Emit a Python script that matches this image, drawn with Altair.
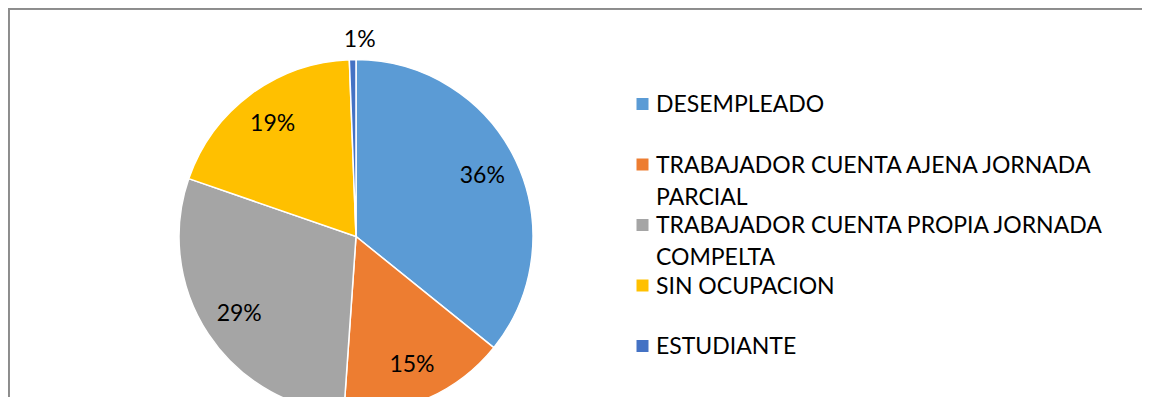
import altair as alt
import pandas as pd

categorias = [
    "DESEMPLEADO",
    "TRABAJADOR CUENTA AJENA JORNADA PARCIAL",
    "TRABAJADOR CUENTA PROPIA JORNADA COMPELTA",
    "SIN OCUPACION",
    "ESTUDIANTE",
]
etiquetas_leyenda = [
    "DESEMPLEADO",
    "TRABAJADOR CUENTA AJENA JORNADA\nPARCIAL",
    "TRABAJADOR CUENTA PROPIA JORNADA\nCOMPELTA",
    "SIN OCUPACION",
    "ESTUDIANTE",
]
porcentajes = [35.8, 15.3, 29.2, 19.1, 0.6]
colores = ["#5B9BD5", "#ED7D31", "#A5A5A5", "#FFC000", "#4472C4"]

df = pd.DataFrame({
    "cat": categorias,
    "leyenda": etiquetas_leyenda,
    "pct": porcentajes,
    "idx": list(range(len(categorias))),
})
df["frac"] = df["pct"] / 100.0

FONT = "Lato"
CX, CY, R = 347, 227.5, 177

color = alt.Color("cat:N", scale=alt.Scale(domain=categorias, range=colores), legend=None)

base = alt.Chart(df).encode(
    theta=alt.Theta("pct:Q", stack=True),
    order=alt.Order("idx:Q"),
    x=alt.value(CX),
    y=alt.value(CY),
)

pie = base.mark_arc(outerRadius=R, stroke="white", strokeWidth=1.5).encode(color=color)

lbl_in = base.transform_filter("datum.pct >= 5").mark_text(
    radius=140, font=FONT, fontSize=23, color="#000000", align="center", baseline="middle"
).encode(text=alt.Text("frac:Q", format=".0%"))

lbl_out = base.transform_filter("datum.pct < 5").mark_text(
    radius=197, font=FONT, fontSize=23, color="#000000", align="center", baseline="middle"
).encode(text=alt.Text("frac:Q", format=".0%"))

ley_y = alt.Y("idx:Q", scale=alt.Scale(domain=[0, 4], range=[95, 337]), axis=None)

ley_sq = alt.Chart(df).mark_square(size=144, opacity=1).encode(
    x=alt.value(633.5), y=ley_y, color=color
)
ley_txt = alt.Chart(df).mark_text(
    font=FONT, fontSize=23, color="#000000", align="left", baseline="alphabetic",
    lineBreak="\n", lineHeight=32, dy=8
).encode(x=alt.value(647), y=ley_y, text="leyenda:N")

borde_sup = alt.Chart(df).mark_rule(color="#8c8c8c", strokeWidth=1.5).encode(
    x=alt.value(-0.5), x2=alt.value(1200), y=alt.value(-0.25)
)
borde_izq = alt.Chart(df).mark_rule(color="#8c8c8c", strokeWidth=1.5).encode(
    x=alt.value(-0.25), y=alt.value(-0.5), y2=alt.value(500)
)

chart = alt.layer(pie, lbl_in, lbl_out, ley_sq, ley_txt, borde_sup, borde_izq).resolve_scale(
    y="independent"
).properties(
    width=1133, height=388,
    autosize=alt.AutoSizeParams(type="none"),
    padding={"left": 1, "top": 1, "right": 0, "bottom": 0},
).configure_view(stroke=None)

chart.save("out.html", embed_options={"renderer": "svg", "actions": False})
